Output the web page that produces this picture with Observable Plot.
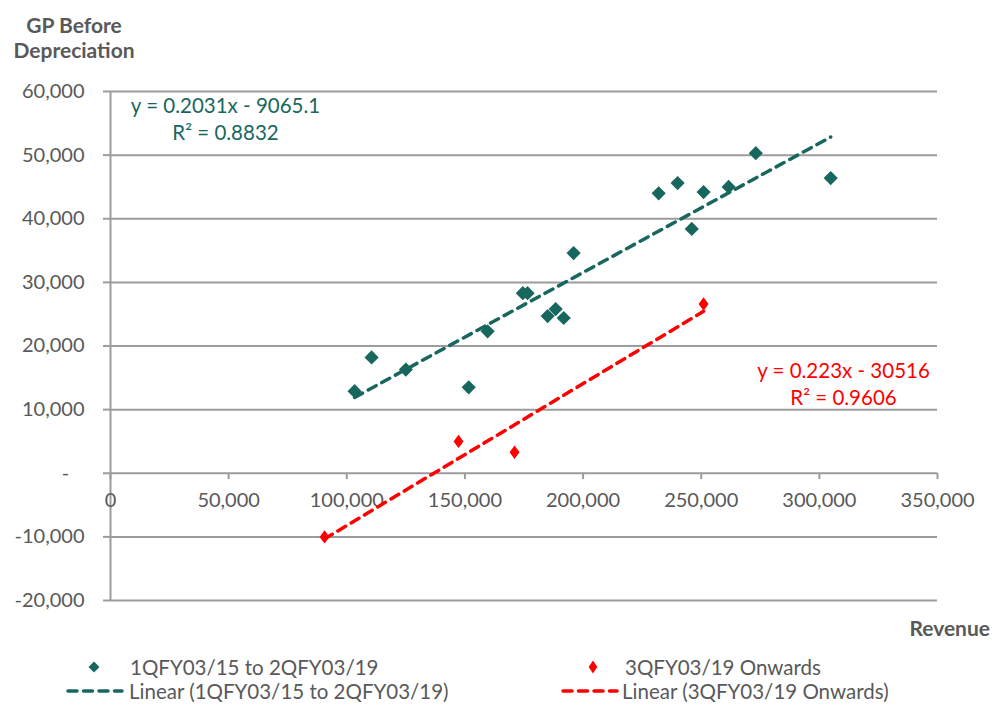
<!DOCTYPE html>
<html>
<head>
<meta charset="utf-8">
<script src="https://cdn.jsdelivr.net/npm/d3@7"></script>
<script src="https://cdn.jsdelivr.net/npm/@observablehq/plot@0.6"></script>
<style>
  body { margin: 0; background: #fff; }
  #wrap { position: relative; width: 1004px; height: 709px; font-family: Lato, "Open Sans", sans-serif; color: #595959; overflow: hidden; }
  #wrap svg.plot { position: absolute; left: 0; top: 0; }
  .abs { position: absolute; white-space: nowrap; }
  .lg { position: absolute; font-size: 20.5px; line-height: 22px; white-space: nowrap; }
</style>
</head>
<body>
<div id="wrap">
  <div class="abs" style="left:0;top:12px;width:148px;text-align:center;font-weight:bold;font-size:21px;line-height:25px;">GP Before<br>Depreciation</div>
  <div class="abs" style="right:14px;top:616px;font-weight:bold;font-size:21px;line-height:24px;">Revenue</div>
  <div id="legend"></div>
</div>
<script>
// ---- data ----
const seriesNames = ["1QFY03/15 to 2QFY03/19", "3QFY03/19 Onwards"];
const tealRevenue = [103300, 110500, 125000, 151600, 159600, 174500, 176500, 185000, 188400, 191800, 196000, 232000, 240000, 246000, 251000, 261600, 273100, 304800];
const tealGP      = [12900, 18200, 16300, 13500, 22300, 28300, 28300, 24700, 25800, 24400, 34600, 44000, 45600, 38400, 44200, 45000, 50300, 46400];
const redRevenue  = [90600, 147300, 171000, 251000];
const redGP       = [-10000, 5000, 3300, 26600];
const slopes      = [0.2031, 0.223];
const intercepts  = [-9065.1, -30516];
const eqTexts     = ["y = 0.2031x - 9065.1", "y = 0.223x - 30516"];
const r2Texts     = ["R² = 0.8832", "R² = 0.9606"];
const xTicks = [0, 50000, 100000, 150000, 200000, 250000, 300000, 350000];
const yTicks = [-20000, -10000, 0, 10000, 20000, 30000, 40000, 50000, 60000];

const teal = "#18675f", red = "#ff0000", grid = "#9c9c9c", textCol = "#595959";

const tealPts = tealRevenue.map((x, i) => ({x, y: tealGP[i]}));
const redPts = redRevenue.map((x, i) => ({x, y: redGP[i]}));
function trend(pts, k) {
  const [x0, x1] = d3.extent(pts, d => d.x);
  return [x0, x1].map(x => ({x, y: slopes[k] * x + intercepts[k]}));
}
const fmtNum = d => d === 0 ? "-\u00a0\u00a0\u00a0" : (d < 0 ? "-" : "") + d3.format(",")(Math.abs(d));

// slightly tall diamond, like the spreadsheet marker
const tallDiamond = {
  draw(context, size) {
    const h = Math.sqrt(size / 1.5);
    const w = h * 0.75;
    context.moveTo(0, -h);
    context.lineTo(w, 0);
    context.lineTo(0, h);
    context.lineTo(-w, 0);
    context.closePath();
  }
};

const chart = Plot.plot({
  width: 1004,
  height: 709,
  marginLeft: 110,
  marginRight: 67,
  marginTop: 91,
  marginBottom: 109,
  x: {domain: [0, 350000], axis: null},
  y: {domain: [-20000, 60000], axis: null},
  style: {fontFamily: "Lato, 'Open Sans', sans-serif", fontSize: "20px", color: textCol, background: "transparent"},
  marks: [
    Plot.ruleY(yTicks, {stroke: grid, strokeWidth: 2}),
    Plot.axisY(yTicks, {tickSize: 7, tickPadding: 19, stroke: grid, strokeWidth: 2, tickFormat: fmtNum, label: null, fontSize: 20}),
    Plot.ruleX([0], {stroke: grid, strokeWidth: 2}),
    Plot.ruleX(xTicks, {y1: 0, y2: -1000, stroke: grid, strokeWidth: 2}),
    Plot.text(xTicks, {x: d => d, y: 0, dy: 27, text: d => d3.format(",")(d), fill: textCol, fontSize: 20}),
    Plot.line(trend(tealPts, 0), {x: "x", y: "y", stroke: teal, strokeWidth: 3.5, strokeDasharray: "9,6.5", strokeLinecap: "round"}),
    Plot.line(trend(redPts, 1), {x: "x", y: "y", stroke: red, strokeWidth: 3.5, strokeDasharray: "9,6.5", strokeLinecap: "round"}),
    Plot.dot(tealPts, {x: "x", y: "y", symbol: "diamond2", r: 6.4, fill: teal, stroke: "none"}),
    Plot.dot(redPts, {x: "x", y: "y", symbol: tallDiamond, r: 4.6, fill: red, stroke: "none"}),
    Plot.text([eqTexts[0]], {frameAnchor: "top-left", dx: 115, dy: 15, text: d => d, fill: teal, fontSize: 20.5, textAnchor: "middle", lineAnchor: "middle"}),
    Plot.text([r2Texts[0]], {frameAnchor: "top-left", dx: 115, dy: 42, text: d => d, fill: teal, fontSize: 20.5, textAnchor: "middle", lineAnchor: "middle"}),
    Plot.text([eqTexts[1]], {frameAnchor: "top-left", dx: 733, dy: 280, text: d => d, fill: red, fontSize: 20.5, textAnchor: "middle", lineAnchor: "middle"}),
    Plot.text([r2Texts[1]], {frameAnchor: "top-left", dx: 733, dy: 307, text: d => d, fill: red, fontSize: 20.5, textAnchor: "middle", lineAnchor: "middle"})
  ]
});
chart.classList.add("plot");
document.getElementById("wrap").prepend(chart);

// ---- legend ----
const lg = document.getElementById("legend");
const items = [
  {left: 84, top: 656, w: 20, kind: "dot", color: teal, sym: "sq", text: seriesNames[0], tx: 130},
  {left: 583, top: 656, w: 20, kind: "dot", color: red, sym: "tall", text: seriesNames[1], tx: 625},
  {left: 66, top: 680, w: 58, kind: "line", color: teal, text: `Linear (${seriesNames[0]})`, tx: 129},
  {left: 561, top: 680, w: 58, kind: "line", color: red, text: `Linear (${seriesNames[1]})`, tx: 622}
];
for (const it of items) {
  const s = d3.create("svg").attr("width", it.w).attr("height", 22)
    .style("position", "absolute").style("left", it.left + "px").style("top", it.top + "px");
  if (it.kind === "dot") {
    const c = it.w / 2;
    const hw = it.sym === "sq" ? 5.5 : 4.3, hh = it.sym === "sq" ? 5.5 : 6.5;
    s.append("path").attr("d", `M${c},${11 - hh}L${c + hw},11L${c},${11 + hh}L${c - hw},11Z`).attr("fill", it.color);
  } else {
    s.append("line").attr("x1", 2).attr("x2", it.w - 2).attr("y1", 11).attr("y2", 11)
      .attr("stroke", it.color).attr("stroke-width", 3.5).attr("stroke-dasharray", "9,6.5").attr("stroke-linecap", "round");
  }
  lg.appendChild(s.node());
  const t = document.createElement("div");
  t.className = "lg";
  t.style.left = it.tx + "px";
  t.style.top = it.top + "px";
  t.textContent = it.text;
  lg.appendChild(t);
}
</script>
</body>
</html>
